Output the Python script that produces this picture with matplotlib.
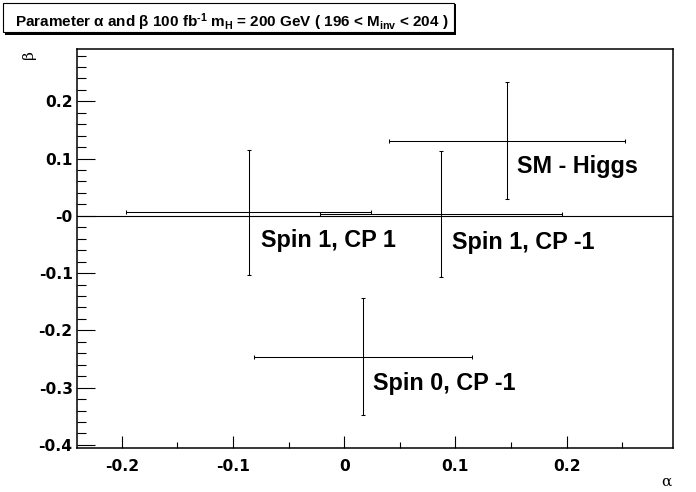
import numpy as np
import matplotlib
matplotlib.use("Agg")
import matplotlib.pyplot as plt
from matplotlib.ticker import MultipleLocator, FixedLocator
from matplotlib.patches import Rectangle

plt.rcParams['font.family'] = ['Liberation Sans', 'DejaVu Sans']
plt.rcParams['mathtext.fontset'] = 'custom'
plt.rcParams['mathtext.rm'] = 'Liberation Sans:bold'
plt.rcParams['mathtext.it'] = 'Liberation Sans:bold'
plt.rcParams['mathtext.bf'] = 'Liberation Sans:bold'
plt.rcParams['mathtext.default'] = 'rm'

# fitted parameters (alpha, beta) with errors, one entry per hypothesis
labels = ["SM - Higgs", "Spin 1, CP -1", "Spin 1, CP 1", "Spin 0, CP -1"]
alpha = [0.146, 0.087, -0.086, 0.017]
alpha_err = [0.106, 0.109, 0.110, 0.098]
beta = [0.131, 0.003, 0.006, -0.246]
beta_err = [0.102, 0.110, 0.109, 0.102]

# where the labels sit (alpha, beta of the text baseline start)
label_pos = [(0.155, 0.074), (0.097, -0.058), (-0.075, -0.054), (0.026, -0.305)]

yticks = [-0.4, -0.3, -0.2, -0.1, 0.0, 0.1, 0.2]
ytick_labels = ["-0.4", "-0.3", "-0.2", "-0.1", "-0", "0.1", "0.2"]
xticks = [-0.2, -0.1, 0.0, 0.1, 0.2]
xtick_labels = ["-0.2", "-0.1", "0", "0.1", "0.2"]

W, H = 696, 492
fig = plt.figure(figsize=(W / 100, H / 100), dpi=100)
ax = fig.add_axes([77.3 / W, 1 - 448.3 / H, (672.7 - 77.3) / W, (448.3 - 49) / H])

# the beta = 0 line
ax.axhline(0, color='black', lw=0.8, zorder=1)

for a, ae, b, be in zip(alpha, alpha_err, beta, beta_err):
    ax.errorbar(a, b, xerr=ae, yerr=be, fmt='none', ecolor='black',
                elinewidth=0.75, capsize=1.5, capthick=0.75, zorder=2)

for text, (px, py) in zip(labels, label_pos):
    ax.text(px, py, text, fontsize=16.8, fontweight='bold', ha='left', va='baseline')

ax.set_xlim(-0.240, 0.2953)
ax.set_ylim(-0.406, 0.2914)

ax.xaxis.set_major_locator(FixedLocator(xticks))
ax.set_xticklabels(xtick_labels)
ax.yaxis.set_major_locator(FixedLocator(yticks))
ax.set_yticklabels(ytick_labels)
ax.xaxis.set_minor_locator(MultipleLocator(0.05))
ax.yaxis.set_minor_locator(MultipleLocator(0.02))

ax.tick_params(axis='both', which='both', direction='in', top=False, right=False,
               width=0.8)
for lbl in ax.get_xticklabels() + ax.get_yticklabels():
    lbl.set_fontweight('bold')
    lbl.set_family('DejaVu Sans')
    lbl.set_fontsize(11.2)
ax.tick_params(axis='y', which='major', length=13, pad=3.3)
ax.tick_params(axis='y', which='minor', length=6.3)
ax.tick_params(axis='x', which='major', length=8.6, pad=7.5)
ax.tick_params(axis='x', which='minor', length=4.3)
for sp in ax.spines.values():
    sp.set_linewidth(1.1)

# axis titles in symbol-like serif font
fig.text(29 / W, 1 - 50 / H, "β", family='DejaVu Serif', fontsize=11,
         rotation=90, ha='center', va='top')
fig.text(672 / W, 1 - 486 / H, "α", family='DejaVu Serif', fontsize=11,
         ha='right', va='baseline')

# title box with shadow
fig.patches.append(Rectangle((5 / W, 1 - 35 / H), 451 / W, 31 / H,
                             transform=fig.transFigure, facecolor='black',
                             edgecolor='none', zorder=0))
fig.patches.append(Rectangle((3 / W, 1 - 32 / H), 451 / W, 29 / H,
                             transform=fig.transFigure, facecolor='white',
                             edgecolor='black', lw=0.8, zorder=1))
fig.text(15 / W, 1 - 26.7 / H,
         "Parameter α and β 100 fb$^{\u2010 1}$ m$_{H}$ = 200 GeV ( 196 < M$_{inv}$ < 204 )",
         fontsize=11, fontweight='bold', ha='left', va='baseline', zorder=3)

fig.savefig("out.png", dpi=100)
